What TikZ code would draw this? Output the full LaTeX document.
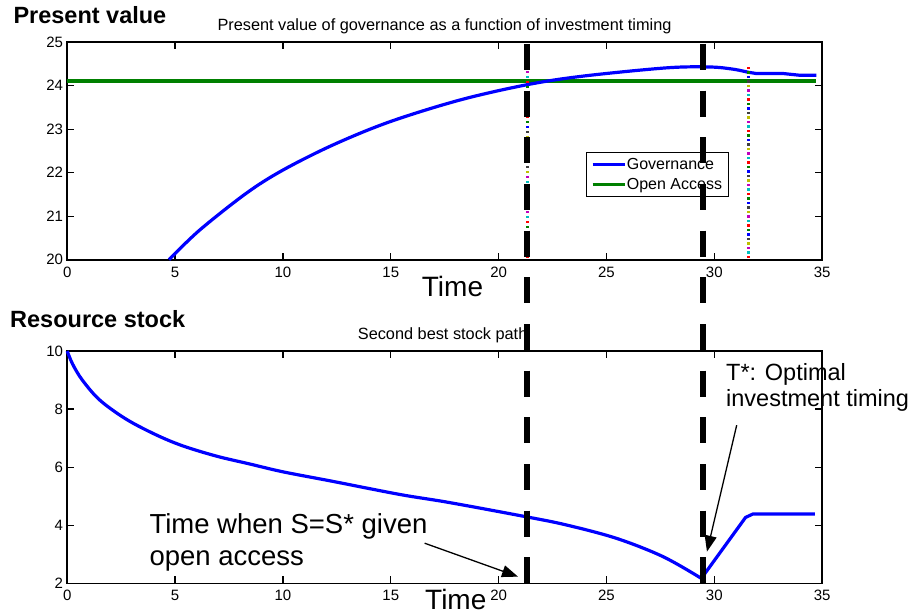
\documentclass[tikz,border=0pt]{standalone}
\usepackage{fontspec}
\setmainfont{Liberation Sans}
\usetikzlibrary{arrows.meta}

\definecolor{mgreen}{rgb}{0,0.5,0}
\definecolor{mc0}{rgb}{1,0,0}
\definecolor{mc1}{rgb}{0,0.75,0.75}
\definecolor{mc2}{rgb}{0.75,0,0.75}
\definecolor{mc3}{rgb}{0.75,0.75,0}
\definecolor{mc4}{rgb}{0.25,0.25,0.25}
\definecolor{mc5}{rgb}{0,0,1}
\definecolor{mc6}{rgb}{0,0.5,0}

\newcommand{\axisfont}{\fontsize{15}{18}\selectfont}
\newcommand{\ptitlefont}{\fontsize{16.3}{19}\selectfont}
\newcommand{\pheadfont}{\fontsize{23.5}{28}\selectfont\bfseries}
\newcommand{\plabelfont}{\fontsize{28}{32}\selectfont}
\newcommand{\pnotefont}{\fontsize{27.5}{31.7}\selectfont}
\newcommand{\psmallnote}{\fontsize{23.5}{26.7}\selectfont}
\newcommand{\plegfont}{\fontsize{16}{19}\selectfont}

\tikzset{
  axisbox/.style={line width=1.6pt},
  tickmark/.style={line width=1.2pt},
  xlbl/.style={anchor=north,inner sep=0pt,yshift=-7pt,font=\axisfont},
  ylbl/.style={anchor=east,inner sep=0pt,xshift=-4pt,font=\axisfont},
  txt/.style={anchor=base west,inner sep=0pt},
  govcurve/.style={line width=3.2pt,blue},
  oaline/.style={line width=3.2pt,mgreen},
  bigdash/.style={line width=6pt,dash pattern=on 26pt off 20.67pt},
  annot/.style={line width=1.3pt,-{Triangle[length=16pt,width=12pt]}}
}

\begin{document}
\begin{tikzpicture}[x=1pt,y=-1pt]
\useasboundingbox (0,0) rectangle (914,615);

% top panel
\node[txt,font=\pheadfont] (pvhead) at (13.3,24) {Present value};
\node[anchor=base,inner sep=0pt,font=\ptitlefont] (pvtitle) at (444.5,30.7)
  {Present value of governance as a function of investment timing};

\begin{scope}[shift={(67.2,1129.7)},x=21.57pt,y=43.5pt]
\draw[axisbox] (0,20) rectangle (35,25);
\foreach \t in {5,10,...,30} {
  \draw[tickmark] (\t,20) -- ++(0pt,7pt);
  \draw[tickmark] (\t,25) -- ++(0pt,-7pt);
}
\foreach \v in {21,...,24} {
  \draw[tickmark] (0,\v) -- ++(7pt,0pt);
  \draw[tickmark] (35,\v) -- ++(-7pt,0pt);
}
\foreach \t in {0,5,...,35} \node[xlbl] (pvx\t) at (\t,20) {\t};
\foreach \v in {20,...,25} \node[ylbl] (pvy\v) at (0,\v) {\v};

\draw[oaline] (0,24.11) -- (34.73,24.11);
\draw[govcurve] plot[smooth,tension=0.55] coordinates {(4.72,20) (6.14,20.68)
  (8.31,21.53) (10.0,22.06) (12.33,22.64) (14.95,23.17) (18.2,23.67) (21.29,24.02)
  (23.91,24.22) (27.78,24.41) (29.79,24.43) (30.87,24.38) (31.56,24.31)}
  -- (31.95,24.28) -- (33.19,24.28) -- (33.96,24.24) -- (34.73,24.24);
\end{scope}

\node[txt,font=\plabelfont] (pvtime) at (421.7,296.7) {Time};

% legend
\draw[line width=1.4pt,fill=white] (586.7,152.5) rectangle (728.3,196.7);
\draw[line width=3pt,blue] (592.7,164.3) -- (625,164.3);
\draw[line width=3pt,mgreen] (592.7,184.3) -- (625,184.3);
\node[txt,font=\plegfont] (leggov) at (626.7,170) {Governance};
\node[txt,font=\plegfont] (legoa) at (626.7,190) {Open Access};

% coloured markers
\foreach \i [evaluate=\i as \k using {int(mod(\i,7))}] in {0,...,37}
  \fill[fill=mc\k] (526.1,{255.8-5*\i}) rectangle ++(2.4,2.4);
\foreach \i [evaluate=\i as \k using {int(mod(\i,7))}] in {0,...,42}
  \fill[fill=mc\k] (747.1,{255.8-4.5*\i}) rectangle ++(2.4,2.4);

% bottom panel
\node[txt,font=\pheadfont] (rshead) at (10,327) {Resource stock};
\node[txt,font=\ptitlefont] (rstitle) at (357.7,339.3) {Second best stock path};

\begin{scope}[shift={(67.2,641.4)},x=21.57pt,y=29.04pt]
\draw[axisbox] (0,2) rectangle (35,10);
\foreach \t in {5,10,...,30} {
  \draw[tickmark] (\t,2) -- ++(0pt,7pt);
  \draw[tickmark] (\t,10) -- ++(0pt,-7pt);
}
\foreach \v in {4,6,8} {
  \draw[tickmark] (0,\v) -- ++(7pt,0pt);
  \draw[tickmark] (35,\v) -- ++(-7pt,0pt);
}
\foreach \t in {0,5,...,35} \node[xlbl] (rsx\t) at (\t,2) {\t};
\foreach \v in {2,4,...,10} \node[ylbl] (rsy\v) at (0,\v) {\v};

\draw[govcurve] plot[smooth,tension=0.55] coordinates {(0,10) (0.25,9.55) (0.7,9.0)
  (1.51,8.31) (2.74,7.65) (4.13,7.11) (5.37,6.73) (6.92,6.38) (8.46,6.11) (10.0,5.84)
  (12.32,5.51) (15.42,5.06) (17.73,4.78) (21.29,4.29) (23.14,4.01) (25.46,3.55)
  (27.62,2.92) (29.4,2.17)}
  -- (31.45,4.27) -- (31.8,4.39) -- (34.66,4.39);

\coordinate (oatip) at (20.9,2.23);
\coordinate (tstip) at (29.66,3.09);
\end{scope}

\node[txt,font=\plabelfont] (rstime) at (425,609.5) {Time};

% notes
\node[txt,font=\pnotefont] (oa1) at (149.3,533.3) {Time when S=S* given};
\node[txt,font=\pnotefont] (oa2) at (149.3,565) {open access};
\node[txt,font=\psmallnote] (ts1) at (726,380) {T*: Optimal};
\node[txt,font=\psmallnote] (ts2) at (726,406.7) {investment timing};

\draw[annot] ([xshift=-3pt,yshift=-4pt]oa1.south east) -- (oatip);
\draw[annot] ([xshift=10.7pt,yshift=-13.4pt]ts2.south west) -- (tstip);

% dashed markers
\draw[bigdash] (527.3,44) -- (527.3,583.3);
\draw[bigdash] (702.7,44) -- (702.7,583.3);
\end{tikzpicture}
\end{document}
